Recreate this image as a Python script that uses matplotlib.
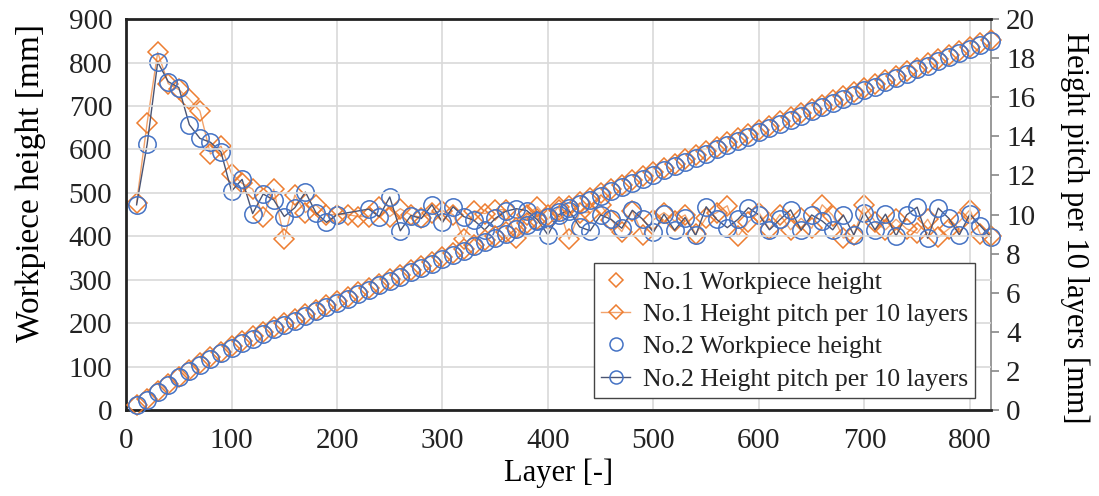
import numpy as np
import matplotlib
matplotlib.use("Agg")
import matplotlib.pyplot as plt

# ----------------------------------------------------------------------------
# Data (layers every 10, heights in mm)
# ----------------------------------------------------------------------------
layers = list(range(10, 830, 10))

no1_height = [
    10.6, 25.3, 43.6, 60.3, 76.7, 92.6, 107.9, 121.0, 134.5, 146.6,
    158.1, 169.4, 179.3, 190.6, 199.4, 210.4, 220.5, 231.0, 241.0, 251.0,
    261.0, 270.9, 280.7, 291.1, 301.0, 311.3, 321.3, 331.1, 341.2, 351.4,
    361.4, 370.2, 380.4, 390.4, 400.7, 410.9, 419.7, 429.7, 440.1, 449.9,
    460.3, 469.0, 479.1, 489.2, 499.7, 509.4, 518.6, 528.8, 537.7, 547.4,
    557.5, 567.2, 577.2, 586.2, 596.1, 606.2, 616.7, 625.6, 635.2, 645.4,
    654.6, 664.6, 673.8, 683.6, 692.9, 703.4, 713.3, 722.1, 731.1, 741.6,
    751.2, 760.4, 770.2, 779.5, 788.5, 798.3, 807.1, 816.4, 826.0, 836.2,
    845.0, 852.0,
]
no1_pitch = [
    10.6, 14.7, 18.3, 16.7, 16.4, 15.9, 15.3, 13.1, 13.5, 12.1,
    11.6, 11.3, 9.9, 11.3, 8.75, 11.0, 10.1, 10.5, 10.0, 10.0,
    10.0, 9.9, 9.9, 10.4, 9.9, 10.3, 9.98, 9.85, 10.1, 10.2,
    10.0, 8.77, 10.2, 10.05, 10.25, 10.25, 8.8, 9.98, 10.4, 9.76,
    10.4, 8.74, 10.1, 10.1, 10.5, 9.73, 9.13, 10.2, 8.95, 9.73,
    10.1, 9.67, 9.98, 9.0, 9.85, 10.1, 10.45, 8.88, 9.62, 10.1,
    9.25, 10.0, 9.22, 9.81, 9.3, 10.5, 9.95, 8.8, 8.96, 10.5,
    9.64, 9.22, 9.76, 9.27, 9.05, 9.76, 8.84, 9.27, 9.64, 10.24,
    9.0, 8.9,
]

no2_height = [
    10.5, 24.1, 41.9, 58.7, 75.2, 89.8, 103.7, 117.4, 130.6, 141.8,
    153.6, 163.7, 174.7, 185.5, 195.4, 205.7, 216.9, 227.0, 236.6, 246.6,
    256.5, 266.5, 276.8, 286.7, 297.6, 306.8, 316.7, 326.5, 337.0, 346.6,
    357.0, 366.9, 376.6, 385.8, 395.6, 405.8, 416.1, 426.3, 436.0, 445.0,
    455.0, 465.2, 474.6, 483.7, 493.7, 503.5, 512.8, 523.0, 532.7, 541.8,
    551.8, 561.0, 570.9, 579.8, 590.2, 600.0, 609.3, 619.0, 629.4, 639.4,
    648.6, 658.3, 668.6, 677.8, 687.7, 697.4, 706.6, 716.6, 725.6, 735.7,
    744.9, 754.9, 763.8, 773.8, 784.2, 793.0, 803.3, 813.1, 822.1, 832.1,
    841.5, 850.3,
]
# No.2 pitch has no points at layers 210 and 220
no2_pitch_layers = [l for l in layers if l not in (210, 220)]
no2_pitch = [
    10.5, 13.6, 17.8, 16.8, 16.5, 14.6, 13.9, 13.7, 13.2, 11.2,
    11.8, 10.05, 11.05, 10.75, 9.9, 10.35, 11.15, 10.1, 9.6, 10.0,
    10.28, 9.9, 10.9, 9.17, 9.95, 9.8, 10.5, 9.6, 10.4, 9.9,
    9.7, 9.22, 9.8, 10.17, 10.3, 10.2, 9.73, 8.96, 10.0, 10.2,
    9.37, 9.17, 9.98, 9.75, 9.3, 10.22, 9.75, 9.1, 10.02, 9.2,
    9.85, 8.93, 10.4, 9.75, 9.33, 9.75, 10.35, 9.98, 9.22, 9.75,
    10.24, 9.2, 9.98, 9.67, 9.22, 9.98, 8.96, 10.1, 9.22, 10.02,
    8.91, 9.98, 10.38, 8.79, 10.33, 9.81, 8.96, 10.02, 9.42, 8.84,
]

ORANGE = "#ED7D31"
ORANGE_LINE = "#F3A36B"
BLUE = "#4472C4"
BLUE_LINE = "#4A5473"

plt.rcParams["font.family"] = ["Liberation Serif", "DejaVu Serif"]
plt.rcParams["text.color"] = "#222222"


def main():
    fig = plt.figure(figsize=(10.99, 4.96), dpi=100)
    ax = fig.add_axes([0.1147, 0.1734, 0.787, 0.788])
    ax2 = ax.twinx()

    ms_c = 12.5
    ms_d = 10

    # workpiece heights (markers only, left axis)
    h1, = ax.plot(layers, no1_height, ls="none", marker="D", ms=ms_d, mfc="none",
                  mec=ORANGE, mew=1.1, clip_on=False, zorder=3)
    h2, = ax.plot(layers, no2_height, ls="none", marker="o", ms=ms_c, mfc="none",
                  mec=BLUE, mew=1.1, clip_on=False, zorder=3)

    # height pitch (markers + line, right axis)
    p1, = ax2.plot(layers, no1_pitch, ls="-", lw=1.0, color=ORANGE_LINE, marker="D",
                   ms=ms_d, mfc="none", mec=ORANGE, mew=1.1, clip_on=False)
    p2, = ax2.plot(no2_pitch_layers, no2_pitch, ls="-", lw=1.0, color=BLUE_LINE,
                   marker="o", ms=ms_c, mfc="none", mec=BLUE, mew=1.1, clip_on=False)

    ax.set_xlim(0, 820)
    ax.set_ylim(0, 900)
    ax2.set_ylim(0, 20)
    ax.set_xticks(range(0, 900, 100))
    ax.set_yticks(range(0, 1000, 100))
    ax2.set_yticks(range(0, 22, 2))

    ax.grid(True, color="#D9D9D9", lw=1.2)
    ax.set_axisbelow(True)

    for s in ("left", "bottom", "top"):
        ax.spines[s].set_linewidth(2.0)
        ax.spines[s].set_color("#222222")
    ax.spines["right"].set_visible(False)
    ax2.spines["right"].set_color("#888888")
    ax2.spines["right"].set_linewidth(1.2)
    for s in ("left", "bottom", "top"):
        ax2.spines[s].set_visible(False)

    ax.tick_params(axis="both", length=0, labelsize=21, colors="#222222", pad=10)
    ax.tick_params(axis="x", pad=13)
    ax2.tick_params(axis="y", length=6, width=1.2, color="#888888",
                    labelsize=21, labelcolor="#222222", pad=5)

    ax.set_xlabel("Layer [-]", fontsize=22, labelpad=3)
    ax.set_ylabel("Workpiece height [mm]", fontsize=24)
    ax.yaxis.set_label_coords(-0.093, 0.58)
    ax2.set_ylabel("Height pitch per 10 layers [mm]", fontsize=22, rotation=-90,
                   va="bottom")
    ax2.yaxis.set_label_coords(1.08, 0.465)

    leg = ax.legend([h1, p1, h2, p2],
                    ["No.1 Workpiece height", "No.1 Height pitch per 10 layers",
                     "No.2 Workpiece height", "No.2 Height pitch per 10 layers"],
                    loc="lower right", bbox_to_anchor=(0.982, 0.03), fontsize=18.5,
                    markerscale=0.75, handlelength=1.1, handletextpad=0.5,
                    labelspacing=0.36, borderpad=0.3, borderaxespad=0.0,
                    fancybox=False, framealpha=1.0, edgecolor="#444444")
    leg.get_frame().set_linewidth(1.0)
    leg.set_zorder(10)
    ax.set_zorder(ax2.get_zorder() + 1)
    ax.patch.set_visible(False)

    fig.savefig("out.png", dpi=100)


if __name__ == "__main__":
    main()
